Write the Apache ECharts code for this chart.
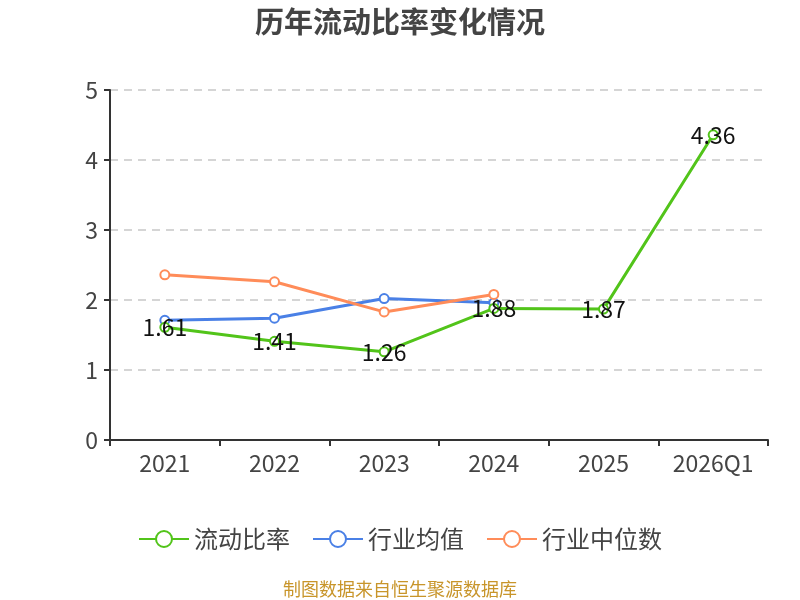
<!DOCTYPE html>
<html>
<head>
<meta charset="utf-8">
<script src="https://cdn.jsdelivr.net/npm/echarts@6/dist/echarts.min.js"></script>
<style>
  html, body { margin: 0; padding: 0; background: #fff; }
  #chart { width: 800px; height: 600px; }
</style>
</head>
<body>
<div id="chart"></div>
<script>
// 数据
var categories = ['2021', '2022', '2023', '2024', '2025', '2026Q1'];
var currentRatio = [1.61, 1.41, 1.26, 1.88, 1.87, 4.36];
var industryAvg = [1.71, 1.74, 2.02, 1.96, null, null];
var industryMedian = [2.36, 2.26, 1.83, 2.08, null, null];
var yTicks = [0, 1, 2, 3, 4, 5];

var FONT = '"Noto Sans CJK SC", "Noto Sans", sans-serif';

var chart = echarts.init(document.getElementById('chart'));

var option = {
    textStyle: { fontFamily: FONT },
    title: {
        text: '历年流动比率变化情况',
        left: 'center',
        top: 2,
        textStyle: { fontSize: 29, fontWeight: 'bold', color: '#444', fontFamily: FONT }
    },
    legend: {
        bottom: 44,
        left: 'center',
        itemWidth: 50,
        itemHeight: 20,
        itemGap: 22,
        textStyle: { fontSize: 24, color: '#444', fontFamily: FONT },
        data: ['流动比率', '行业均值', '行业中位数']
    },
    graphic: [{
        type: 'text',
        left: 'center',
        bottom: 2,
        style: {
            text: '制图数据来自恒生聚源数据库',
            fill: '#c8952a',
            fontSize: 18,
            fontFamily: FONT
        }
    }],
    grid: { left: 110, right: 32, top: 90, bottom: 160 },
    xAxis: {
        type: 'category',
        data: categories,
        axisLine: { lineStyle: { color: '#333', width: 2 } },
        axisTick: { show: true, length: 6, lineStyle: { color: '#333', width: 2 } },
        axisLabel: { fontSize: 23, color: '#444', margin: 12 }
    },
    yAxis: {
        type: 'value',
        min: yTicks[0],
        max: yTicks[yTicks.length - 1],
        interval: 1,
        axisLine: { show: true, lineStyle: { color: '#333', width: 2 } },
        axisTick: { show: true, length: 6, lineStyle: { color: '#333', width: 2 } },
        axisLabel: { fontSize: 23, color: '#444', margin: 12 },
        splitLine: { lineStyle: { color: '#c8c8c8', type: [8, 6], width: 1.5 } }
    },
    series: [
        {
            name: '流动比率',
            type: 'line',
            data: currentRatio,
            symbol: 'circle',
            symbolSize: 9,
            color: '#52c41a',
            lineStyle: { width: 3, color: '#52c41a' },
            itemStyle: { color: '#fff', borderColor: '#52c41a', borderWidth: 2 },
            label: {
                show: true,
                position: 'inside',
                fontSize: 23,
                color: '#111',
                fontFamily: FONT
            },
            z: 3
        },
        {
            name: '行业均值',
            type: 'line',
            data: industryAvg,
            symbol: 'circle',
            symbolSize: 9,
            color: '#4a80e6',
            lineStyle: { width: 3, color: '#4a80e6' },
            itemStyle: { color: '#fff', borderColor: '#4a80e6', borderWidth: 2 },
            z: 2
        },
        {
            name: '行业中位数',
            type: 'line',
            data: industryMedian,
            symbol: 'circle',
            symbolSize: 9,
            color: '#ff8c59',
            lineStyle: { width: 3, color: '#ff8c59' },
            itemStyle: { color: '#fff', borderColor: '#ff8c59', borderWidth: 2 },
            z: 2
        }
    ]
};

chart.setOption(option);
</script>
</body>
</html>
